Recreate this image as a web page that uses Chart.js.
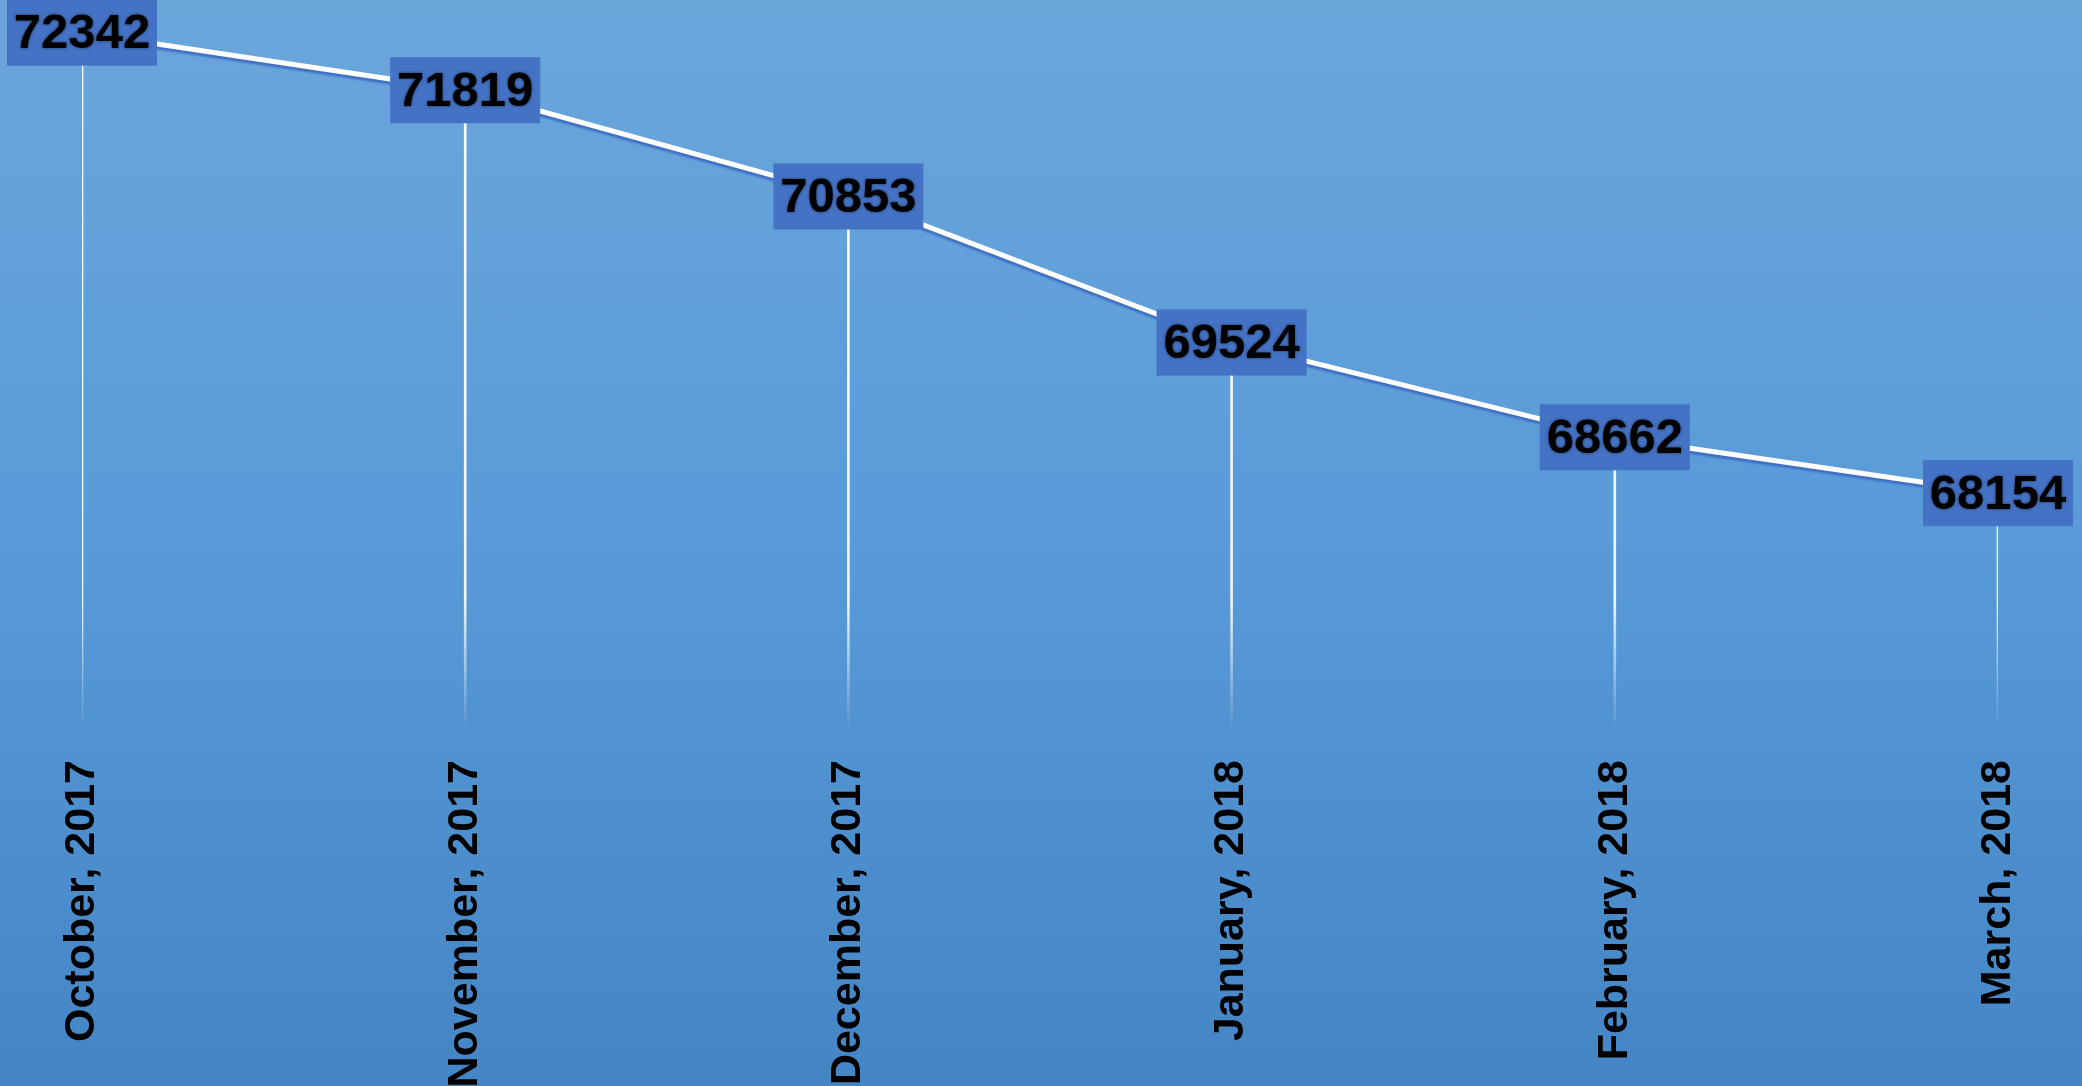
<!DOCTYPE html>
<html>
<head>
<meta charset="utf-8">
<script src="https://cdn.jsdelivr.net/npm/chart.js@4.4.1/dist/chart.umd.min.js"></script>
<style>
    html, body {
        margin: 0;
        padding: 0;
        overflow: hidden;
    }
    #wrap {
        width: 2082px;
        height: 1086px;
        position: relative;
        background: linear-gradient(to bottom, #6ba6db 0%, #589bd8 50%, #4485c5 100%);
    }
</style>
</head>
<body>
<div id="wrap"><canvas id="trendChart"></canvas></div>
<script>
// --- datos ---
const months = [
    "October, 2017",
    "November, 2017",
    "December, 2017",
    "January, 2018",
    "February, 2018",
    "March, 2018",
];
const counts = [72342, 71819, 70853, 69524, 68662, 68154];

// rango del eje (oculto)
const yMin = 66000;
const yMax = 72640;

const FONT = "'Liberation Sans', Arial, sans-serif";

// --- gradiente para las lineas verticales ---
function dropLineColor(context) {
    const area = context.chart.chartArea;
    if (!area) return "rgba(255,255,255,0.9)";
    const g = context.chart.ctx.createLinearGradient(0, area.top, 0, area.bottom);
    g.addColorStop(0, "rgba(255,255,255,0.95)");
    g.addColorStop(0.82, "rgba(255,255,255,0.9)");
    g.addColorStop(1, "rgba(255,255,255,0)");
    return g;
}

// --- sombra azul bajo la linea ---
const lineShadow = {
    id: "lineShadow",
    beforeDatasetDraw(chart, args) {
        if (args.index !== 1) return;
        const ctx = chart.ctx;
        ctx.save();
        ctx.shadowColor = "#3f6fc4";
        ctx.shadowOffsetY = 3;
        ctx.shadowBlur = 2;
    },
    afterDatasetDraw(chart, args) {
        if (args.index !== 1) return;
        chart.ctx.restore();
    },
};

// --- etiquetas con caja ---
const valueBoxes = {
    id: "valueBoxes",
    afterDatasetsDraw(chart) {
        const ctx = chart.ctx;
        const meta = chart.getDatasetMeta(1);
        const values = chart.data.datasets[1].data;
        ctx.save();
        ctx.font = "bold 49px " + FONT;
        ctx.textAlign = "center";
        ctx.textBaseline = "middle";
        meta.data.forEach((pt, i) => {
            const w = 150, h = 66;
            ctx.shadowColor = "transparent";
            ctx.shadowBlur = 0;
            ctx.fillStyle = "#4472c4";
            ctx.fillRect(pt.x - w / 2, pt.y - h / 2, w, h);
            ctx.shadowColor = "rgba(0,0,0,0.55)";
            ctx.shadowBlur = 3;
            ctx.fillStyle = "#000000";
            ctx.fillText(String(values[i]), pt.x, pt.y + 2);
        });
        ctx.restore();
    },
};

new Chart(document.getElementById("trendChart"), {
    type: "line",
    data: {
        labels: months,
        datasets: [
            {
                type: "bar",
                data: counts,
                backgroundColor: dropLineColor,
                barThickness: 2,
                order: 2,
            },
            {
                type: "line",
                data: counts,
                borderColor: "#ffffff",
                borderWidth: 5,
                pointRadius: 0,
                tension: 0,
                fill: false,
                order: 1,
            },
        ],
    },
    options: {
        responsive: true,
        maintainAspectRatio: false,
        animation: false,
        layout: {
            padding: { left: 82, right: 84, top: 0, bottom: 0 },
        },
        plugins: {
            legend: { display: false },
            tooltip: { enabled: false },
        },
        scales: {
            x: {
                offset: false,
                border: { display: false },
                grid: { display: false, drawTicks: false },
                ticks: {
                    minRotation: 90,
                    maxRotation: 90,
                    padding: 30,
                    color: "#000000",
                    font: { family: FONT, size: 43, weight: "bold" },
                },
                // alto fijo del eje para dejar el area del grafico en ~730px
                afterFit(scale) {
                    scale.height = 356;
                },
            },
            y: {
                display: false,
                min: yMin,
                max: yMax,
            },
        },
    },
    plugins: [lineShadow, valueBoxes],
});
</script>
</body>
</html>
